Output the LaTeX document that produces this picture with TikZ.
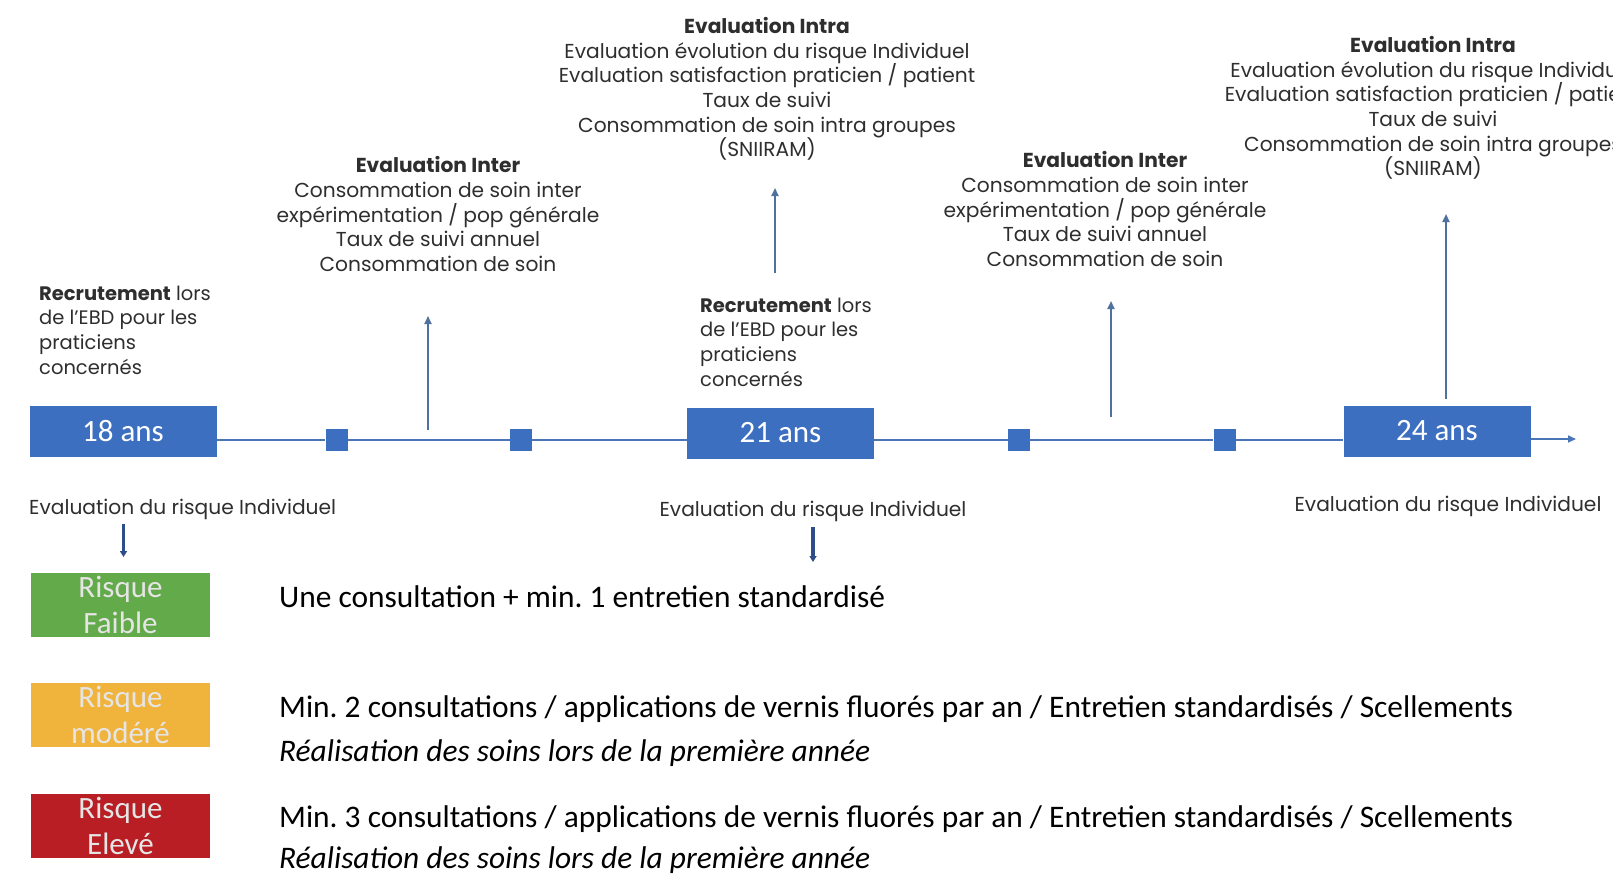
\documentclass[tikz,border=0pt]{standalone}
\usepackage{fontspec}
\setmainfont{Carlito}
\newfontfamily\gothic{Poppins}
\usetikzlibrary{arrows.meta}
\definecolor{boxblue}{HTML}{3D6FC1}
\definecolor{lineblue}{HTML}{4A76B8}
\definecolor{arrblue}{HTML}{50709E}
\definecolor{darrblue}{HTML}{2E4E8A}
\definecolor{rgreen}{HTML}{62AA4A}
\definecolor{rorange}{HTML}{F0B43C}
\definecolor{rred}{HTML}{B81E24}
\definecolor{txt}{HTML}{2E2E2E}
\tikzset{
  agebox/.style={fill=boxblue, draw=none, minimum width=187pt, minimum height=51pt, inner sep=0pt,
    text=white, font=\fontsize{31}{33}\selectfont},
  sqr/.style={fill=boxblue, draw=none, minimum size=22pt, inner sep=0pt},
  riskbox/.style={draw=none, minimum width=179pt, minimum height=64pt, inner sep=0pt,
    text=white!90!black, align=center, font=\fontsize{31}{36}\selectfont},
  gtext/.style={text=txt, align=center, inner sep=0pt, font=\gothic\fontsize{20.2}{24.7}\selectfont},
  ltext/.style={text=txt, align=left, inner sep=0pt, anchor=west, font=\gothic\fontsize{19.5}{24.7}\selectfont},
  rtext/.style={text=black, inner sep=0pt, anchor=west, font=\fontsize{31.4}{34}\selectfont},
  tline/.style={draw=lineblue, line width=1.6pt},
  uparr/.style={draw=arrblue, line width=1.8pt, -{Triangle[length=8pt,width=7pt]}},
  dnarr/.style={draw=darrblue, line width=3.5pt, -{Triangle[length=6pt,width=7pt]}},
}
\frenchspacing
\begin{document}
\begin{tikzpicture}[x=1pt,y=-1pt]
\useasboundingbox (0,0) rectangle (1613,886);
\clip (0,0) rectangle (1613,886);
\fill[white] (0,0) rectangle (1613,886);

% timeline boxes
\node[agebox] (b18) at (123,431) {18 ans};
\node[agebox] (b21) at (780.5,433) {21 ans};
\node[agebox] (b24) at (1437,431) {24 ans};
\node[sqr] (s1) at (336.5,440) {};
\node[sqr] (s2) at (520.7,440) {};
\node[sqr] (s3) at (1018.7,440) {};
\node[sqr] (s4) at (1224.5,440) {};
\coordinate (end) at (1576,439);

\draw[tline] (b18.east |- s1) -- (s1) -- (s2) -- (b21.west |- s2);
\draw[tline] (b21.east |- s3) -- (s3) -- (s4) -- (b24.west |- s4);
\draw[tline, -{Triangle[length=8pt,width=7pt]}] (b24.east |- end) -- (end);

% recruitment texts
\node[ltext] (rec1) at (39,330) {\textbf{Recrutement} lors\\de l’EBD pour les\\praticiens\\concernés};
\node[ltext] (rec2) at (700,342) {\textbf{Recrutement} lors\\de l’EBD pour les\\praticiens\\concernés};

% evaluation texts
\node[gtext] (inter1) at (438,214) {\textbf{Evaluation Inter}\\Consommation de soin inter\\expérimentation / pop générale\\Taux de suivi annuel\\Consommation de soin};
\node[gtext] (intra1) at (767,89) {\textbf{Evaluation Intra}\\Evaluation évolution du risque Individuel\\Evaluation satisfaction praticien / patient\\Taux de suivi\\Consommation de soin intra groupes\\(SNIIRAM)};
\node[gtext] (inter2) at (1105,209) {\textbf{Evaluation Inter}\\Consommation de soin inter\\expérimentation / pop générale\\Taux de suivi annuel\\Consommation de soin};
\node[gtext] (intra2) at (1433,108) {\textbf{Evaluation Intra}\\Evaluation évolution du risque Individuel\\Evaluation satisfaction praticien / patient\\Taux de suivi\\Consommation de soin intra groupes\\(SNIIRAM)};

% up arrows
\coordinate (u1a) at (428,430); \coordinate (u1b) at (428,316);
\coordinate (u2a) at (775,273); \coordinate (u2b) at (775,188);
\coordinate (u3a) at (1111,417); \coordinate (u3b) at (1111,301);
\coordinate (u4a) at (1446,399); \coordinate (u4b) at (1446,214);
\draw[uparr] (u1a) -- (u1b);
\draw[uparr] (u2a) -- (u2b);
\draw[uparr] (u3a) -- (u3b);
\draw[uparr] (u4a) -- (u4b);

% evaluation du risque
\node[gtext, anchor=west] (ev1) at (29,509) {Evaluation du risque Individuel};
\node[gtext] (ev2) at (813,511) {Evaluation du risque Individuel};
\node[gtext] (ev3) at (1448,506) {Evaluation du risque Individuel};
\coordinate (d1a) at (123.5,524); \coordinate (d1b) at (123.5,557);
\coordinate (d2a) at (813,527); \coordinate (d2b) at (813,562);
\draw[dnarr] (d1a) -- (d1b);
\draw[dnarr] (d2a) -- (d2b);

% risk boxes
\node[riskbox, fill=rgreen] (rf) at (120.5,605) {Risque\\Faible};
\node[riskbox, fill=rorange] (rm) at (120.5,715) {Risque\\modéré};
\node[riskbox, fill=rred] (re) at (120.5,826) {Risque\\Elevé};

% risk texts
\node[rtext] (t1) at (279,597) {Une consultation + min. 1 entretien standardisé};
\node[rtext] (t2) at (279,709) {Min. 2 consultations / applications de vernis fluorés par an / Entretien standardisés / Scellements};
\node[rtext] (t2b) at (279,753) {\itshape Réalisation des soins lors de la première année};
\node[rtext] (t3) at (279,819) {Min. 3 consultations / applications de vernis fluorés par an / Entretien standardisés / Scellements};
\node[rtext] (t3b) at (279,860) {\itshape Réalisation des soins lors de la première année};
\end{tikzpicture}
\end{document}
